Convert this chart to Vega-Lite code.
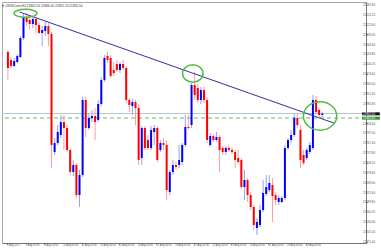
{
  "$schema": "https://vega.github.io/schema/vega-lite/v6.json",
  "width": 364,
  "height": 241,
  "autosize": "none",
  "padding": {"left": 2, "top": 2, "right": 15, "bottom": 7},
  "background": "#ffffff",
  "title": {"text": "▼ US30Cash,H4 21862.10 21866.40 21851.20 21855.50", "anchor": "start", "fontSize": 3.2, "fontWeight": "normal", "color": "#333333", "offset": -5},
  "config": {
    "font": "Liberation Sans",
    "view": {"stroke": "#aaaaaa"},
    "axis": {"labels": false, "grid": false, "title": null, "tickSize": 1.5, "tickColor": "#888888", "domainColor": "#777777"}
  },
  "datasets": {
    "candles": [
      {"i":0,"o":22040,"h":22046,"l":21956,"c":21992},
      {"i":1,"o":22016,"h":22025,"l":21992,"c":21998},
      {"i":2,"o":21998,"h":22022,"l":21995,"c":22013},
      {"i":3,"o":22010,"h":22034,"l":22007,"c":22028},
      {"i":4,"o":22025,"h":22088,"l":22022,"c":22082},
      {"i":5,"o":22082,"h":22154,"l":22076,"c":22145},
      {"i":6,"o":22145,"h":22157,"l":22118,"c":22130},
      {"i":7,"o":22136,"h":22148,"l":22106,"c":22124},
      {"i":8,"o":22124,"h":22148,"l":22112,"c":22139},
      {"i":9,"o":22139,"h":22145,"l":22097,"c":22121},
      {"i":10,"o":22121,"h":22130,"l":22094,"c":22097},
      {"i":11,"o":22097,"h":22118,"l":22058,"c":22106},
      {"i":12,"o":22103,"h":22130,"l":22088,"c":22118},
      {"i":13,"o":22118,"h":22127,"l":22058,"c":22094},
      {"i":14,"o":22094,"h":22100,"l":21692,"c":21761},
      {"i":15,"o":21740,"h":21782,"l":21731,"c":21767},
      {"i":16,"o":21767,"h":21821,"l":21761,"c":21800},
      {"i":17,"o":21791,"h":21851,"l":21782,"c":21830},
      {"i":18,"o":21830,"h":21851,"l":21746,"c":21812},
      {"i":19,"o":21812,"h":21821,"l":21740,"c":21746},
      {"i":20,"o":21746,"h":21752,"l":21671,"c":21680},
      {"i":21,"o":21680,"h":21716,"l":21668,"c":21701},
      {"i":22,"o":21701,"h":21707,"l":21602,"c":21611},
      {"i":23,"o":21611,"h":21686,"l":21575,"c":21671},
      {"i":24,"o":21671,"h":21905,"l":21665,"c":21896},
      {"i":25,"o":21896,"h":21905,"l":21785,"c":21812},
      {"i":26,"o":21812,"h":21857,"l":21806,"c":21842},
      {"i":27,"o":21842,"h":21866,"l":21830,"c":21848},
      {"i":28,"o":21848,"h":21872,"l":21776,"c":21830},
      {"i":29,"o":21836,"h":21896,"l":21830,"c":21884},
      {"i":30,"o":21884,"h":21965,"l":21878,"c":21956},
      {"i":31,"o":21956,"h":22031,"l":21950,"c":22022},
      {"i":32,"o":22028,"h":22040,"l":22007,"c":22016},
      {"i":33,"o":22022,"h":22031,"l":21962,"c":21968},
      {"i":34,"o":21986,"h":22010,"l":21968,"c":21977},
      {"i":35,"o":22004,"h":22016,"l":21980,"c":21986},
      {"i":36,"o":21986,"h":22010,"l":21977,"c":22004},
      {"i":37,"o":22004,"h":22016,"l":21986,"c":21992},
      {"i":38,"o":21992,"h":21998,"l":21887,"c":21896},
      {"i":39,"o":21896,"h":21902,"l":21860,"c":21881},
      {"i":40,"o":21878,"h":21899,"l":21851,"c":21890},
      {"i":41,"o":21890,"h":21896,"l":21821,"c":21872},
      {"i":42,"o":21872,"h":21884,"l":21701,"c":21716},
      {"i":43,"o":21722,"h":21818,"l":21701,"c":21812},
      {"i":44,"o":21812,"h":21818,"l":21746,"c":21752},
      {"i":45,"o":21776,"h":21791,"l":21746,"c":21752},
      {"i":46,"o":21752,"h":21818,"l":21746,"c":21806},
      {"i":47,"o":21800,"h":21821,"l":21761,"c":21812},
      {"i":48,"o":21812,"h":21818,"l":21710,"c":21716},
      {"i":49,"o":21746,"h":21776,"l":21740,"c":21767},
      {"i":50,"o":21767,"h":21782,"l":21746,"c":21761},
      {"i":51,"o":21761,"h":21776,"l":21596,"c":21626},
      {"i":52,"o":21620,"h":21686,"l":21611,"c":21680},
      {"i":53,"o":21680,"h":21716,"l":21671,"c":21701},
      {"i":54,"o":21701,"h":21710,"l":21686,"c":21695},
      {"i":55,"o":21701,"h":21761,"l":21692,"c":21716},
      {"i":56,"o":21710,"h":21767,"l":21701,"c":21761},
      {"i":57,"o":21761,"h":21851,"l":21755,"c":21815},
      {"i":58,"o":21815,"h":21851,"l":21806,"c":21812},
      {"i":59,"o":21821,"h":21947,"l":21812,"c":21941},
      {"i":60,"o":21941,"h":21980,"l":21896,"c":21911},
      {"i":61,"o":21932,"h":21944,"l":21887,"c":21896},
      {"i":62,"o":21896,"h":21935,"l":21884,"c":21926},
      {"i":63,"o":21926,"h":21935,"l":21887,"c":21896},
      {"i":64,"o":21896,"h":21905,"l":21767,"c":21776},
      {"i":65,"o":21761,"h":21797,"l":21755,"c":21788},
      {"i":66,"o":21788,"h":21794,"l":21770,"c":21776},
      {"i":67,"o":21776,"h":21800,"l":21770,"c":21785},
      {"i":68,"o":21785,"h":21791,"l":21680,"c":21746},
      {"i":69,"o":21752,"h":21758,"l":21731,"c":21740},
      {"i":70,"o":21740,"h":21758,"l":21731,"c":21752},
      {"i":71,"o":21752,"h":21761,"l":21740,"c":21746},
      {"i":72,"o":21746,"h":21755,"l":21734,"c":21740},
      {"i":73,"o":21740,"h":21746,"l":21692,"c":21716},
      {"i":74,"o":21722,"h":21746,"l":21704,"c":21710},
      {"i":75,"o":21716,"h":21722,"l":21629,"c":21635},
      {"i":76,"o":21635,"h":21686,"l":21596,"c":21656},
      {"i":77,"o":21656,"h":21662,"l":21590,"c":21611},
      {"i":78,"o":21611,"h":21620,"l":21566,"c":21575},
      {"i":79,"o":21575,"h":21581,"l":21506,"c":21521},
      {"i":80,"o":21512,"h":21542,"l":21491,"c":21530},
      {"i":81,"o":21521,"h":21581,"l":21515,"c":21566},
      {"i":82,"o":21566,"h":21656,"l":21560,"c":21617},
      {"i":83,"o":21614,"h":21671,"l":21608,"c":21635},
      {"i":84,"o":21626,"h":21671,"l":21620,"c":21647},
      {"i":85,"o":21641,"h":21662,"l":21530,"c":21608},
      {"i":86,"o":21611,"h":21620,"l":21581,"c":21596},
      {"i":87,"o":21590,"h":21611,"l":21581,"c":21602},
      {"i":88,"o":21590,"h":21608,"l":21587,"c":21602},
      {"i":89,"o":21602,"h":21761,"l":21596,"c":21752},
      {"i":90,"o":21752,"h":21782,"l":21746,"c":21776},
      {"i":91,"o":21776,"h":21806,"l":21767,"c":21791},
      {"i":92,"o":21791,"h":21857,"l":21785,"c":21842},
      {"i":93,"o":21842,"h":21854,"l":21812,"c":21821},
      {"i":94,"o":21806,"h":21821,"l":21692,"c":21716},
      {"i":95,"o":21731,"h":21746,"l":21701,"c":21707},
      {"i":96,"o":21722,"h":21752,"l":21716,"c":21746},
      {"i":97,"o":21740,"h":21770,"l":21734,"c":21761},
      {"i":98,"o":21752,"h":21911,"l":21746,"c":21896},
      {"i":99,"o":21896,"h":21908,"l":21851,"c":21860},
      {"i":100,"o":21866,"h":21872,"l":21845,"c":21851},
      {"i":101,"o":21851,"h":21860,"l":21845,"c":21855.5}
    ],
    "trend": [{"i":3.76,"v":22160},{"i":104.7,"v":21827}],
    "circles": [
      {"name":"top","i":5.64,"v":22156},
      {"name":"mid","i":59.4,"v":21975.5},
      {"name":"break","i":100.3,"v":21848}
    ],
    "levels": [
      {"name":"bid","v":21855.5,"lo":21850,"hi":21859,"label":"21855.50"},
      {"name":"alert","v":21842,"lo":21837,"hi":21846,"label":"21842.00"}
    ],
    "yticks": [
      {"v":22181.8},{"v":22152.2},{"v":22122.6},{"v":22093},{"v":22063.4},{"v":22033.8},{"v":22004.2},{"v":21974.6},
      {"v":21945},{"v":21915.4},{"v":21885.8},{"v":21826.6},{"v":21797},{"v":21767.4},{"v":21737.8},{"v":21708.2},
      {"v":21678.6},{"v":21649},{"v":21619.4},{"v":21589.8},{"v":21560.2},{"v":21530.6},{"v":21501},{"v":21471.4}
    ],
    "xticks": [
      {"i":-0.3,"label":"7 Aug 2017"},{"i":5.7,"label":"8 Aug 00:00"},{"i":11.7,"label":"9 Aug 00:00"},
      {"i":17.7,"label":"10 Aug 00:00"},{"i":23.7,"label":"11 Aug 00:00"},{"i":29.7,"label":"14 Aug 00:00"},
      {"i":35.7,"label":"15 Aug 00:00"},{"i":41.7,"label":"16 Aug 00:00"},{"i":47.7,"label":"17 Aug 00:00"},
      {"i":53.7,"label":"18 Aug 00:00"},{"i":59.7,"label":"21 Aug 00:00"},{"i":65.7,"label":"22 Aug 00:00"},
      {"i":71.7,"label":"23 Aug 00:00"},{"i":77.7,"label":"24 Aug 00:00"},{"i":83.7,"label":"25 Aug 00:00"},
      {"i":89.7,"label":"28 Aug 00:00"},{"i":95.7,"label":"29 Aug 00:00"}
    ]
  },
  "layer": [
    {
      "data": {"name": "candles"},
      "mark": {"type": "rule", "strokeWidth": 1},
      "encoding": {
        "x": {"field": "i", "type": "quantitative", "scale": {"domain": [-0.3, 113.45], "nice": false, "zero": false},
          "axis": {"values": [-0.3,5.7,11.7,17.7,23.7,29.7,35.7,41.7,47.7,53.7,59.7,65.7,71.7,77.7,83.7,89.7,95.7]}},
        "y": {"field": "l", "type": "quantitative", "scale": {"domain": [21467, 22190], "nice": false, "zero": false},
          "axis": {"orient": "right", "values": [22181.8,22152.2,22122.6,22093,22063.4,22033.8,22004.2,21974.6,21945,21915.4,21885.8,21826.6,21797,21767.4,21737.8,21708.2,21678.6,21649,21619.4,21589.8,21560.2,21530.6,21501,21471.4]}},
        "y2": {"field": "h"},
        "color": {"condition": {"test": "datum.c >= datum.o", "value": "#9c9cff"}, "value": "#ff9c9c"}
      }
    },
    {
      "data": {"name": "levels"},
      "transform": [{"filter": "datum.name === 'bid'"}],
      "mark": {"type": "rule", "color": "#b9c3cc", "strokeWidth": 1},
      "encoding": {"y": {"field": "v", "type": "quantitative"}}
    },
    {
      "data": {"name": "levels"},
      "transform": [{"filter": "datum.name === 'alert'"}],
      "mark": {"type": "rule", "color": "#5fbf5f", "strokeWidth": 1, "strokeDash": [4, 3]},
      "encoding": {"y": {"field": "v", "type": "quantitative"}}
    },
    {
      "data": {"name": "candles"},
      "mark": {"type": "bar", "size": 2},
      "encoding": {
        "x": {"field": "i", "type": "quantitative"},
        "y": {"field": "o", "type": "quantitative"},
        "y2": {"field": "c"},
        "color": {"condition": {"test": "datum.c >= datum.o", "value": "#0000ff"}, "value": "#ff0000"}
      }
    },
    {
      "data": {"name": "trend"},
      "mark": {"type": "line", "color": "#2f2f9f", "strokeWidth": 1},
      "encoding": {"x": {"field": "i", "type": "quantitative"}, "y": {"field": "v", "type": "quantitative"}}
    },
    {
      "data": {"name": "circles"},
      "transform": [{"filter": "datum.name === 'top'"}],
      "mark": {"type": "point", "filled": false, "opacity": 1, "stroke": "#55bb44", "strokeWidth": 1.5, "size": 529,
        "shape": "M-1,0C-1,-0.192,-0.552,-0.348,0,-0.348C0.552,-0.348,1,-0.192,1,0C1,0.192,0.552,0.348,0,0.348C-0.552,0.348,-1,0.192,-1,0Z"},
      "encoding": {"x": {"field": "i", "type": "quantitative"}, "y": {"field": "v", "type": "quantitative"}}
    },
    {
      "data": {"name": "circles"},
      "transform": [{"filter": "datum.name === 'mid'"}],
      "mark": {"type": "point", "filled": false, "opacity": 1, "stroke": "#55bb44", "strokeWidth": 1.5, "size": 420,
        "shape": "M-1,0C-1,-0.469,-0.552,-0.85,0,-0.85C0.552,-0.85,1,-0.469,1,0C1,0.469,0.552,0.85,0,0.85C-0.552,0.85,-1,0.469,-1,0Z"},
      "encoding": {"x": {"field": "i", "type": "quantitative"}, "y": {"field": "v", "type": "quantitative"}}
    },
    {
      "data": {"name": "circles"},
      "transform": [{"filter": "datum.name === 'break'"}],
      "mark": {"type": "point", "filled": false, "opacity": 1, "stroke": "#55bb44", "strokeWidth": 1.5, "size": 1110,
        "shape": "M-1,0C-1,-0.469,-0.552,-0.85,0,-0.85C0.552,-0.85,1,-0.469,1,0C1,0.469,0.552,0.85,0,0.85C-0.552,0.85,-1,0.469,-1,0Z"},
      "encoding": {"x": {"field": "i", "type": "quantitative"}, "y": {"field": "v", "type": "quantitative"}}
    },
    {
      "data": {"name": "levels"},
      "mark": {"type": "rect"},
      "encoding": {
        "x": {"datum": 113.8, "type": "quantitative"},
        "x2": {"datum": 119.5},
        "y": {"field": "lo", "type": "quantitative"},
        "y2": {"field": "hi"},
        "color": {"field": "name", "type": "nominal", "scale": {"domain": ["bid", "alert"], "range": ["#111111", "#1f9a2a"]}, "legend": null}
      }
    },
    {
      "data": {"name": "levels"},
      "mark": {"type": "text", "align": "left", "baseline": "middle", "fontSize": 2.9, "color": "#ffffff"},
      "encoding": {
        "x": {"datum": 114.1, "type": "quantitative"},
        "y": {"field": "v", "type": "quantitative"},
        "text": {"field": "label"}
      }
    },
    {
      "data": {"name": "yticks"},
      "mark": {"type": "text", "align": "left", "baseline": "middle", "fontSize": 2.9, "color": "#555555"},
      "encoding": {
        "x": {"datum": 114.1, "type": "quantitative"},
        "y": {"field": "v", "type": "quantitative"},
        "text": {"field": "v", "type": "quantitative", "format": ".2f"}
      }
    },
    {
      "data": {"name": "xticks"},
      "mark": {"type": "text", "align": "left", "baseline": "top", "fontSize": 2.6, "color": "#555555", "dy": 1.2},
      "encoding": {
        "x": {"field": "i", "type": "quantitative"},
        "y": {"datum": 21467, "type": "quantitative"},
        "text": {"field": "label"}
      }
    }
  ]
}
